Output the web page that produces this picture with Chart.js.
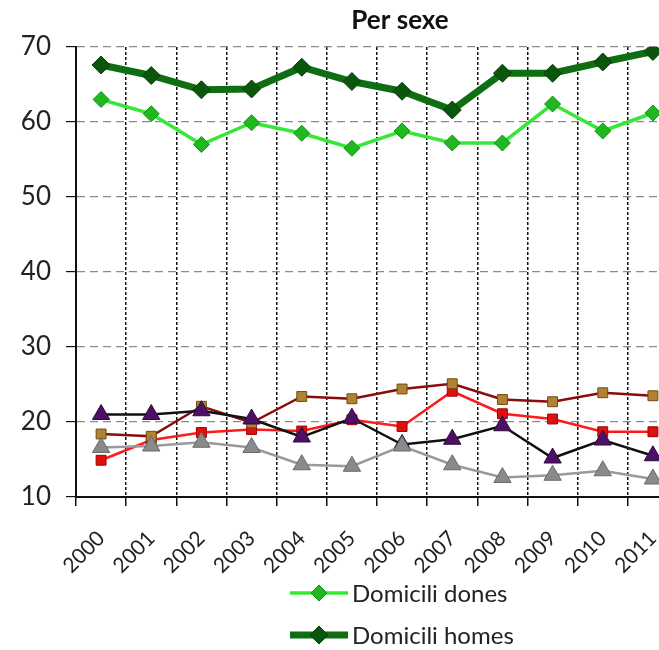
<!DOCTYPE html>
<html>
<head>
<meta charset="utf-8">
<script src="https://cdn.jsdelivr.net/npm/chart.js@4/dist/chart.umd.min.js"></script>
<style>
  html, body { margin: 0; padding: 0; background: #fff; overflow: hidden; }
  #wrap { position: relative; width: 800px; height: 650px; }
</style>
</head>
<body>
<div id="wrap"><canvas id="chart"></canvas></div>
<script>
// Years on the horizontal axis
const years = ['2000', '2001', '2002', '2003', '2004', '2005', '2006', '2007', '2008', '2009', '2010', '2011'];

// Percentages per series
const domiciliDones   = [63.0, 61.1, 57.0, 59.9, 58.5, 56.5, 58.8, 57.2, 57.2, 62.4, 58.8, 61.2];
const domiciliHomes   = [67.6, 66.2, 64.3, 64.4, 67.3, 65.4, 64.1, 61.6, 66.5, 66.5, 68.0, 69.4];
const hospitalDones   = [14.9, 17.6, 18.6, 19.0, 18.8, 20.3, 19.4, 24.1, 21.1, 20.4, 18.7, 18.7];
const hospitalHomes   = [18.4, 18.1, 22.1, 19.9, 23.4, 23.1, 24.4, 25.1, 23.0, 22.7, 23.9, 23.5];
const residenciaHomes = [21.0, 21.0, 21.5, 20.4, 18.0, 20.5, 17.0, 17.7, 19.5, 15.2, 17.6, 15.5];
const residenciaDones = [16.6, 16.8, 17.3, 16.6, 14.3, 14.1, 16.8, 14.3, 12.6, 12.9, 13.5, 12.4];

// Y axis range
const yMin = 10, yMax = 70, yStep = 10;

const FONT = 'Lato, "Open Sans", sans-serif';

// Vertical legend drawn under the axis, one entry per row, centred on the canvas
const stackedLegend = {
  id: 'stackedLegend',
  afterDraw(chart) {
    const ctx = chart.ctx;
    const area = chart.chartArea;
    const cx = chart.width / 2;
    const lineStart = cx - 110, lineEnd = cx - 52, textX = cx - 48;
    chart.data.datasets.forEach((ds, i) => {
      const y = area.bottom + 96 + i * 42;
      if (y > chart.height) return;
      ctx.save();
      ctx.strokeStyle = ds.borderColor;
      ctx.lineWidth = ds.borderWidth;
      ctx.beginPath();
      ctx.moveTo(lineStart, y);
      ctx.lineTo(lineEnd, y);
      ctx.stroke();
      ctx.fillStyle = ds.pointBackgroundColor;
      ctx.strokeStyle = ds.pointBorderColor;
      ctx.lineWidth = 1;
      Chart.helpers.drawPoint(ctx, {
        pointStyle: ds.pointStyle, radius: ds.pointRadius, rotation: 0, borderWidth: 1
      }, (lineStart + lineEnd) / 2, y);
      ctx.fillStyle = '#222';
      ctx.font = '24px ' + FONT;
      ctx.textAlign = 'left';
      ctx.textBaseline = 'middle';
      ctx.fillText(ds.label, textX, y + 1);
      ctx.restore();
    });
  }
};

function series(label, data, line, fill, border, style, radius, width, order) {
  return {
    label, data, order,
    borderColor: line, borderWidth: width,
    pointStyle: style, pointRadius: radius, pointHoverRadius: radius,
    pointBackgroundColor: fill, pointBorderColor: border, pointBorderWidth: 1,
    tension: 0, fill: false
  };
}

new Chart(document.getElementById('chart'), {
  type: 'line',
  data: {
    labels: years,
    datasets: [
      series('Domicili dones', domiciliDones, '#36e836', '#1fb81f', '#168f16', 'rectRot', 8, 3.5, 6),
      series('Domicili homes', domiciliHomes, '#0f6e12', '#0b560d', '#07400a', 'rectRot', 9, 7, 5),
      series('Hospital dones', hospitalDones, '#ff1a1a', '#e01010', '#a00000', 'rect', 7, 2.5, 4),
      series('Hospital homes', hospitalHomes, '#8a0c0c', '#b08232', '#6e4c12', 'rect', 7, 2.5, 3),
      series('Residència homes', residenciaHomes, '#111111', '#4d1065', '#2e0840', 'triangle', 10, 2.5, 2),
      series('Residència dones', residenciaDones, '#9a9a9a', '#8a8a8a', '#6a6a6a', 'triangle', 10, 2.5, 1)
    ]
  },
  options: {
    responsive: true,
    maintainAspectRatio: false,
    devicePixelRatio: 1,
    animation: false,
    layout: { padding: { left: 0, right: 0, top: 0, bottom: 68 } },
    plugins: {
      legend: { display: false },
      tooltip: { enabled: false },
      title: {
        display: true,
        text: 'Per sexe',
        color: '#111',
        font: { family: FONT, size: 26, weight: 'bold' },
        padding: { top: 5, bottom: 10.8 }
      }
    },
    scales: {
      x: {
        offset: true,
        grid: {
          offset: true,
          color: '#111',
          lineWidth: 1.5,
          tickLength: 9,
          tickColor: '#111'
        },
        border: { display: true, color: '#111', width: 2, dash: [3, 2] },
        ticks: {
          color: '#222',
          font: { family: FONT, size: 21 },
          minRotation: 45,
          maxRotation: 45,
          autoSkip: false,
          padding: 20
        },
        afterFit(scale) { scale.height = 85; }
      },
      y: {
        min: yMin,
        max: yMax,
        grid: {
          color: '#8a8a8a',
          lineWidth: 1.2,
          tickLength: 10,
          tickColor: '#111'
        },
        border: { display: true, color: '#111', width: 2, dash: [8, 5] },
        ticks: {
          stepSize: yStep,
          color: '#222',
          font: { family: FONT, size: 26 },
          padding: 15
        },
        afterFit(scale) { scale.width = 76; }
      },
      // empty right-hand box that reserves the space to the right of the plot
      spacer: {
        type: 'linear',
        position: 'right',
        display: true,
        grid: { display: false, drawTicks: false },
        border: { display: false },
        ticks: { display: false },
        afterFit(scale) { scale.width = 122; }
      }
    }
  },
  plugins: [stackedLegend]
});
</script>
</body>
</html>
